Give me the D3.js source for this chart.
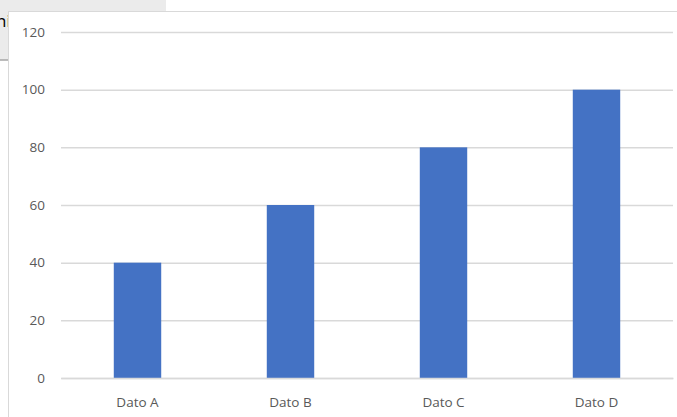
<!DOCTYPE html>
<html>
<head>
<meta charset="utf-8">
<script src="https://cdn.jsdelivr.net/npm/d3@7"></script>
<style>
  body { margin: 0; background: #fff; }
  svg { display: block; }
</style>
</head>
<body>
<div id="chart"></div>
<script>
// data
var categories = ["Dato A", "Dato B", "Dato C", "Dato D"];
var values = [40, 60, 80, 100];
var yTicks = [0, 20, 40, 60, 80, 100, 120];

var width = 677, height = 417;
var margin = { top: 32, right: 4, bottom: 39, left: 61 };

var svg = d3.select("#chart")
    .append("svg")
    .attr("width", width)
    .attr("height", height);

// grey window area behind the chart frame (top-left)
svg.append("rect")
    .attr("x", 0).attr("y", 0)
    .attr("width", 166).attr("height", 60)
    .attr("fill", "#ebebeb");
svg.append("line")
    .attr("x1", 0).attr("x2", 8)
    .attr("y1", 60).attr("y2", 60)
    .attr("stroke", "#a6a6a6").attr("stroke-width", 1.5);
svg.append("text")
    .attr("x", -4).attr("y", 27)
    .style("font-family", "Open Sans, sans-serif")
    .style("font-size", "17px")
    .attr("fill", "#000")
    .text("ni");

// chart frame
svg.append("rect")
    .attr("x", 8.5).attr("y", 11.5)
    .attr("width", width + 10).attr("height", height + 10)
    .attr("fill", "#fff")
    .attr("stroke", "#d9d9d9");

var g = svg.append("g")
    .attr("transform", "translate(" + margin.left + "," + margin.top + ")");

var w = width - margin.left - margin.right;
var h = height - margin.top - margin.bottom;

var x = d3.scaleBand()
    .domain(categories)
    .range([0, w])
    .paddingInner(0.69)
    .paddingOuter(0.345);

var y = d3.scaleLinear()
    .domain([0, 120])
    .range([h, 0]);

// gridlines
g.append("g")
    .call(d3.axisLeft(y).tickValues(yTicks).tickSize(-w).tickFormat(""))
    .call(function (a) {
        a.select(".domain").remove();
        a.selectAll("line").attr("stroke", "#d9d9d9").attr("stroke-width", 1.5);
    });

// y tick labels
g.append("g")
    .call(d3.axisLeft(y).tickValues(yTicks).tickSize(0).tickPadding(16))
    .call(function (a) {
        a.select(".domain").remove();
        a.selectAll("text")
            .attr("fill", "#595959")
            .style("font-family", "Open Sans, sans-serif")
            .style("font-size", "13.5px");
    });

// bars
g.selectAll("rect.bar")
    .data(values)
    .enter()
    .append("rect")
    .attr("class", "bar")
    .attr("x", function (d, i) { return x(categories[i]); })
    .attr("y", function (d) { return y(d); })
    .attr("width", x.bandwidth())
    .attr("height", function (d) { return h - y(d); })
    .attr("fill", "#4472c4");

// x axis baseline + labels
g.append("g")
    .attr("transform", "translate(0," + h + ")")
    .call(d3.axisBottom(x).tickSize(0).tickPadding(19))
    .call(function (a) {
        a.select(".domain").attr("stroke", "#d9d9d9").attr("stroke-width", 1.5);
        a.selectAll("text")
            .attr("fill", "#595959")
            .style("font-family", "Open Sans, sans-serif")
            .style("font-size", "13.5px");
    });
</script>
</body>
</html>
